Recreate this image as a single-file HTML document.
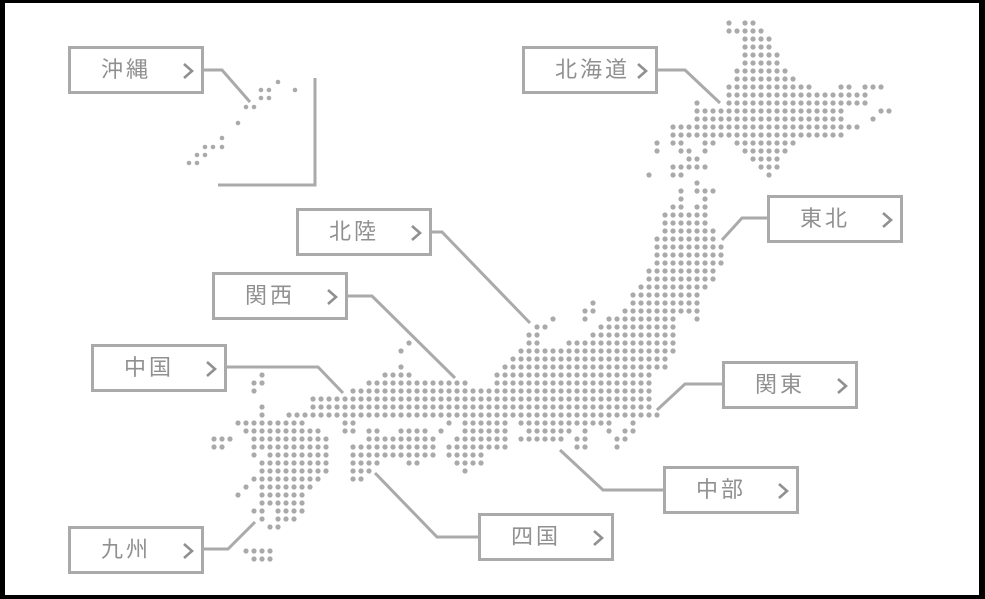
<!DOCTYPE html>
<html><head><meta charset="utf-8"><style>
html,body{margin:0;padding:0;background:#000;}
#w{position:absolute;left:5px;top:3px;width:974px;height:592px;background:#fff;}
svg{position:absolute;left:0;top:0;}
.b{position:absolute;box-sizing:border-box;width:136px;height:48px;border:3px solid #aaa;background:#fff;color:#909090;font:22px/42px "Liberation Sans","Noto Sans CJK JP",sans-serif;}
.b span{position:absolute;left:30px;top:0;letter-spacing:3px;}
.b svg{position:absolute;left:110px;top:13px;}
</style></head><body>
<div id="w"></div>
<svg width="985" height="599" id="s">
<g stroke="#aaa" stroke-width="3" fill="none">
<polyline points="203,70 222,70 250,102"/>
<polyline points="656,70 685,70 720,103"/>
<polyline points="430,232 442,232 530,323"/>
<polyline points="767,218 742,218 722,240"/>
<polyline points="346,296 372,296 455,378"/>
<polyline points="225,367 318,367 343,393"/>
<polyline points="722,384 685,384 657,410"/>
<polyline points="663,490 603,490 560,450"/>
<polyline points="478,537 437,537 375,473"/>
<polyline points="203,549 228,549 255,522"/>
<polyline points="315,78 315,185 218,185"/>
</g>
<g id="d" fill="#aaa"></g>
</svg>
<div class="b" style="left:68px;top:46px"><span>沖縄</span></div>
<div class="b" style="left:522px;top:46px"><span>北海道</span></div>
<div class="b" style="left:296px;top:208px"><span>北陸</span></div>
<div class="b" style="left:767px;top:195px"><span>東北</span></div>
<div class="b" style="left:212px;top:272px"><span>関西</span></div>
<div class="b" style="left:91px;top:344px"><span>中国</span></div>
<div class="b" style="left:722px;top:361px"><span>関東</span></div>
<div class="b" style="left:663px;top:466px"><span>中部</span></div>
<div class="b" style="left:478px;top:513px"><span>四国</span></div>
<div class="b" style="left:68px;top:526px"><span>九州</span></div>
<script>
document.querySelectorAll('.b').forEach(function(b){b.insertAdjacentHTML('beforeend','<svg width="14" height="18"><polyline points="3,2 11,9 3,16" fill="none" stroke="#909090" stroke-width="2.6"/></svg>');});
var R={
23:[[729,729],[745,753]],31:[[729,761]],39:[[745,769]],47:[[745,769]],55:[[745,777]],63:[[745,777]],
71:[[737,785]],79:[[737,793]],87:[[729,809],[841,849],[865,881]],95:[[729,865]],103:[[697,697],[729,865]],
111:[[697,841],[881,889]],119:[[697,841],[873,873]],127:[[673,857]],135:[[673,841]],
143:[[657,657],[673,681],[705,713],[737,793]],151:[[657,657],[681,689],[705,705],[745,785]],
159:[[689,697],[753,777]],167:[[673,705],[761,777]],175:[[649,649],[673,681],[769,769]],
183:[[697,697]],191:[[681,681],[697,713]],199:[[681,681],[705,705]],207:[[673,681],[697,705]],
215:[[665,705]],223:[[665,705]],231:[[665,713]],239:[[657,713]],247:[[657,721]],255:[[657,721]],263:[[657,721]],
271:[[649,713]],279:[[649,713]],287:[[641,705]],295:[[633,697]],303:[[593,593],[633,697]],
311:[[585,593],[625,697]],319:[[553,553],[585,585],[609,673],[697,697]],327:[[537,545],[601,673]],
335:[[529,537],[593,673]],343:[[409,409],[529,537],[569,673]],351:[[401,401],[521,673]],359:[[513,665]],
367:[[401,401],[505,665]],375:[[262,262],[385,409],[497,649]],383:[[254,262],[369,465],[497,649]],
391:[[254,254],[353,649]],399:[[313,649]],407:[[262,262],[313,649]],415:[[262,262],[289,657]],
423:[[238,303],[345,353],[449,449],[465,505],[521,609],[633,633]],
431:[[246,319],[345,353],[369,377],[401,425],[441,441],[465,505],[529,569],[585,585],[609,609],[625,633]],
439:[[214,230],[254,327],[369,433],[457,505],[521,561],[577,585],[617,625]],
447:[[214,222],[254,327],[353,433],[449,505],[577,585],[617,617]],
455:[[254,254],[270,327],[353,433],[449,481]],463:[[262,327],[353,377],[409,417],[457,481]],
471:[[262,327],[353,369],[465,465]],479:[[254,319],[353,361]],487:[[246,246],[262,311]],
495:[[238,238],[262,303]],503:[[262,303]],511:[[254,262],[278,303]],519:[[262,262],[278,297]],
527:[[270,278]],551:[[246,270]],559:[[254,270]]};
var h='';
for(var y in R){R[y].forEach(function(r){for(var x=r[0];x<=r[1]+2;x+=8)h+='<circle cx="'+x+'" cy="'+y+'" r="2.6"/>';});}
[[278,82],[295,90],[261,90],[269,90],[261,98],[269,98],[246,107],[254,107],[238,123],[222,138],[205,147],[213,147],[222,147],[197,155],[205,155],[189,163],[197,163]].forEach(function(p){h+='<circle cx="'+p[0]+'" cy="'+p[1]+'" r="2.3"/>';});
document.getElementById('d').innerHTML=h;
</script>
</body></html>
